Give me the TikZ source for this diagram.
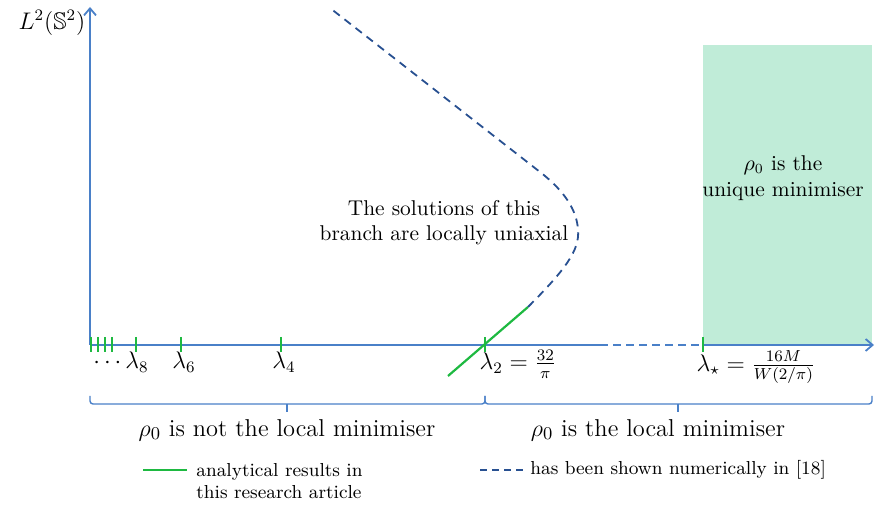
\documentclass[tikz,border=0pt]{standalone}
\usepackage{amsmath,amssymb}
\usepackage{fontspec}
\usetikzlibrary{arrows.meta}
\definecolor{axisblue}{RGB}{74,128,200}
\definecolor{dashblue}{RGB}{40,80,145}
\definecolor{mygreen}{RGB}{30,185,65}
\definecolor{fillgreen}{RGB}{192,236,216}
\begin{document}
\begin{tikzpicture}[x=0.5pt,y=-0.5pt,
  axis/.style={axisblue, line width=0.9pt},
  axisarrow/.style={axis, -{Straight Barb[length=3.5pt,width=6pt]}},
  tickmark/.style={mygreen, line width=0.9pt},
  dashbranch/.style={dashblue, line width=0.9pt, dash pattern=on 4pt off 3pt},
  greenbranch/.style={mygreen, line width=1.1pt},
  bracepath/.style={axisblue, line width=0.7pt, rounded corners=1.5pt},
  lbl/.style={inner sep=0pt, font=\fontsize{12}{14}\selectfont},
  maintext/.style={inner sep=0pt, align=center, font=\fontsize{10.7}{12.5}\selectfont},
  bigtext/.style={inner sep=0pt, font=\fontsize{12.2}{14}\selectfont},
  legtext/.style={inner sep=0pt, align=left, anchor=west, font=\fontsize{9.4}{11}\selectfont}]
\useasboundingbox (0,0) rectangle (875,506);
% shaded region
\fill[fillgreen] (703,45) rectangle (872,345);
\node[maintext] (uniq) at (783,178) {$\rho_0$ is the\\[0.5pt]unique minimiser};
% axes
\coordinate (O) at (90,345);
\coordinate (ytop) at (90,7);
\coordinate (xa) at (600,345);
\coordinate (xb) at (703,345);
\coordinate (xend) at (874,345);
\draw[axis] (O) -- (xa);
\draw[axis, dash pattern=on 4pt off 2.5pt] (xa) -- (xb);
\draw[axisarrow] (xb) -- (xend);
\draw[axisarrow] (O) -- (ytop);
\node[lbl] (ylab) at (52,23) {$L^2(\mathbb{S}^2)$};
% ticks
\foreach \x in {91,98,105,112,136,181,281,485,703}
  \draw[tickmark] (\x,337) -- (\x,352);
% tick labels
\node[lbl] (l8) at (121,362) {$\cdots\lambda_8$};
\node[lbl] (l6) at (184,362) {$\lambda_6$};
\node[lbl] (l4) at (284,362) {$\lambda_4$};
\node[lbl] (l2) at (518,364) {$\lambda_2=\frac{32}{\pi}$};
\node[lbl] (ls) at (756,367) {$\lambda_\star=\frac{16M}{W(2/\pi)}$};
% branch
\coordinate (g0) at (448,376);
\coordinate (g1) at (528,307);
\coordinate (nose) at (578,230);
\coordinate (d1) at (540,172);
\coordinate (d2) at (330,8);
\draw[greenbranch] (g0) -- (g1);
\draw[dashbranch] (g1) .. controls (565,270) and (580,250) .. (nose)
  .. controls (577,210) and (564,190.5) .. (d1) -- (d2);
\node[maintext] (sol) at (444,223) {The solutions of this\\branch are locally uniaxial};
% braces
\coordinate (b0) at (90,396);
\coordinate (b1) at (485,396);
\coordinate (b2) at (872,396);
\coordinate (bm1) at (287,404);
\coordinate (bm2) at (678,404);
\draw[bracepath] (b0) |- (bm1) -| (b1);
\draw[bracepath] (b1) |- (bm2) -| (b2);
\draw[axisblue, line width=0.7pt] (bm1) -- ++(0,8);
\draw[axisblue, line width=0.7pt] (bm2) -- ++(0,8);
\node[bigtext] (notmin) at (287,430) {$\rho_0$ is not the local minimiser};
\node[bigtext] (ismin) at (658,430) {$\rho_0$ is the local minimiser};
% legend
\coordinate (lg0) at (143,470);
\coordinate (lg1) at (187,470);
\draw[greenbranch] (lg0) -- (lg1);
\node[legtext] (leg1) at (196,481) {analytical results in\\this research article};
\coordinate (ld0) at (480,470);
\coordinate (ld1) at (525,470);
\draw[dashbranch, dash pattern=on 3.5pt off 2.5pt] (ld0) -- (ld1);
\node[legtext] (leg2) at (530,470) {has been shown numerically in [18]};
\end{tikzpicture}
\end{document}
